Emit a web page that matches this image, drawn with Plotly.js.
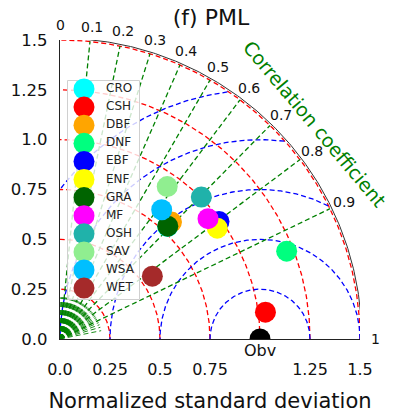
<!DOCTYPE html>
<html>
<head>
<meta charset="utf-8">
<script src="https://cdn.plot.ly/plotly-3.0.1.min.js"></script>
<style>html,body{margin:0;padding:0;background:#fff;}#chart{width:393px;height:414px;}</style>
</head>
<body>
<div id="chart"></div>
<script>
// ---- data ----
const sites   = ['CRO','CSH','DBF','DNF','EBF','ENF','GRA','MF','OSH','SAV','WSA','WET'];
const stdNorm = [0.78, 1.036, 0.809, 1.216, 0.990, 0.963, 0.7815, 0.955, 1.003, 0.934, 0.824, 0.559];
const corr    = [0.69, 0.9915, 0.689, 0.932, 0.803, 0.8166, 0.6897, 0.775, 0.7045, 0.574, 0.617, 0.826];
const colors  = ['#00FFFF','#FF0000','#FFA500','#00FF7F','#0000FF','#FFFF00','#006400','#FF00FF','#20B2AA','#90EE90','#00BFFF','#A52A2A'];
const refStd = 1.0, refCorr = 1.0, refLabel = 'Obv';
const stdGrid  = [0.25, 0.5, 0.75, 1.0, 1.25, 1.5];
const rmsGrid  = [0.25, 0.5, 0.75, 1.0, 1.25];
const corrTicks = [0, 0.1, 0.2, 0.3, 0.4, 0.5, 0.6, 0.7, 0.8, 0.9, 1];
const corrTickText = ['0','0.1','0.2','0.3','0.4','0.5','0.6','0.7','0.8','0.9','1'];
const xTickVals = [0, 0.25, 0.5, 0.75, 1.25, 1.5];
const xTickText = ['0.0','0.25','0.5','0.75','1.25','1.5'];
const yTickVals = [0, 0.25, 0.5, 0.75, 1.0, 1.25, 1.5];
const yTickText = ['0.0','0.25','0.5','0.75','1.0','1.25','1.5'];
const rMax = 1.5;

// ---- helpers ----
const toX = (s, c) => s * c;
const toY = (s, c) => s * Math.sqrt(Math.max(0, 1 - c * c));
const DASH = '5px,3px';
const traces = [];

function circleArc(cx, R, color) {
  const xs = [], ys = [];
  const n = 360;
  for (let i = 0; i <= n; i++) {
    const t = Math.PI * i / n;
    const x = cx + R * Math.cos(t), y = R * Math.sin(t);
    if (x >= -1e-9 && x * x + y * y <= rMax * rMax + 1e-9) { xs.push(x); ys.push(y); }
    else { xs.push(null); ys.push(null); }
  }
  traces.push({x: xs, y: ys, mode: 'lines', line: {color: color, width: 1.3, dash: DASH}, hoverinfo: 'skip', connectgaps: false});
}
// std-dev arcs (red)
stdGrid.forEach(R => circleArc(0, R, 'red'));
// centred RMS arcs (blue)
rmsGrid.forEach(R => circleArc(refStd, R, 'blue'));
// correlation lines (green)
corrTicks.slice(1, -1).forEach(c => {
  traces.push({x: [0, toX(rMax, c)], y: [0, toY(rMax, c)], mode: 'lines',
    line: {color: 'green', width: 1.3, dash: DASH}, hoverinfo: 'skip'});
});
// fine correlation fan near the origin
for (let k = 1; k < 50; k++) {
  const c = k / 50;
  traces.push({x: [0, toX(0.21, c)], y: [0, toY(0.21, c)], mode: 'lines',
    line: {color: 'green', width: 0.9, dash: DASH}, hoverinfo: 'skip'});
}
// outer boundary
(function(){
  const xs = [], ys = [];
  for (let i = 0; i <= 180; i++) { const t = Math.PI / 2 * i / 180; xs.push(rMax * 1.006 * Math.cos(t)); ys.push(rMax * 1.006 * Math.sin(t)); }
  traces.push({x: xs, y: ys, mode: 'lines', line: {color: '#333', width: 1}, hoverinfo: 'skip', cliponaxis: false});
})();
// reference point
traces.push({x: [toX(refStd, refCorr)], y: [toY(refStd, refCorr)], mode: 'markers',
  marker: {size: 21, color: 'black'}, hoverinfo: 'skip'});
traces.push({x: [toX(refStd, refCorr)], y: [toY(refStd, refCorr)], mode: 'markers+text', text: [refLabel],
  marker: {size: 6, opacity: 0}, textposition: 'bottom center',
  textfont: {size: 16, color: '#111', family: 'DejaVu Sans'}, cliponaxis: false, hoverinfo: 'skip'});
// model points
sites.forEach((s, i) => {
  traces.push({x: [toX(stdNorm[i], corr[i])], y: [toY(stdNorm[i], corr[i])], mode: 'markers',
    marker: {size: 21, color: colors[i]}, name: s, hoverinfo: 'skip'});
});

// ---- custom legend on its own (pixel-like) axes ----
const legX0 = 67, legX1 = 140, legY0 = 80, legY1 = 300;
const rowY = sites.map((s, i) => 89 + i * 18.1);
traces.push({x: [legX0+0.5, legX1-0.5, legX1-0.5, legX0+0.5, legX0+0.5], y: [legY0+0.5, legY0+0.5, legY1-0.5, legY1-0.5, legY0+0.5],
  xaxis: 'x2', yaxis: 'y2', mode: 'lines', fill: 'toself', fillcolor: 'rgba(255,255,255,0.8)',
  line: {color: '#d0d0d0', width: 1}, hoverinfo: 'skip'});
traces.push({x: sites.map(() => 84), y: rowY, xaxis: 'x2', yaxis: 'y2', mode: 'markers',
  marker: {size: 21, color: colors}, hoverinfo: 'skip', cliponaxis: false});
traces.push({x: sites.map(() => 106), y: rowY, xaxis: 'x2', yaxis: 'y2', mode: 'text', text: sites,
  textposition: 'middle right', textfont: {size: 12, color: '#222', family: 'DejaVu Sans'}, hoverinfo: 'skip', cliponaxis: false});

// correlation tick labels as annotations (paper coords = data / range, since axes span the full plot area)
const corrAnn = corrTicks.map((c, i) => ({text: corrTickText[i], xref: 'paper', yref: 'paper',
  x: toX(1.575, c) / rMax, y: toY(1.575, c) / rMax, showarrow: false, xanchor: 'center', yanchor: 'middle',
  font: {size: 14, color: '#111', family: 'DejaVu Sans'}}));

const W = 393, H = 414, mL = 60, mR = 33, mT = 40, mB = 75;
const pw = W - mL - mR, ph = H - mT - mB;
const layout = {
  width: W, height: H,
  margin: {l: mL, r: mR, t: mT, b: mB, pad: 0},
  paper_bgcolor: '#fff', plot_bgcolor: 'rgba(0,0,0,0)',
  showlegend: false, hovermode: false,
  font: {family: 'DejaVu Sans', color: '#111'},
  title: {text: '(f) PML', font: {size: 22, family: 'DejaVu Sans', color: '#111'},
    xref: 'container', yref: 'container', x: 211 / W, y: 1 - 17 / H, xanchor: 'center', yanchor: 'middle'},
  xaxis: {range: [0, rMax], showgrid: false, zeroline: false, showline: true, linecolor: '#222', linewidth: 1.3,
    tickvals: xTickVals, ticktext: xTickText, ticks: '', tickfont: {size: 16, color: '#111'}, ticklabelstandoff: 15,
    title: {text: 'Normalized standard deviation', font: {size: 21, color: '#111'}, standoff: 15}, fixedrange: true},
  yaxis: {range: [0, rMax], showgrid: false, zeroline: false, showline: true, linecolor: '#222', linewidth: 1.3,
    tickvals: yTickVals, ticktext: yTickText, ticks: '', tickfont: {size: 16.5, color: '#111'}, ticklabelstandoff: 8, fixedrange: true},
  xaxis2: {domain: [(legX0 - mL) / pw, (legX1 - mL) / pw], range: [legX0, legX1], anchor: 'y2',
    showgrid: false, zeroline: false, showline: false, showticklabels: false, ticks: '', fixedrange: true},
  yaxis2: {domain: [(H - mB - legY1) / ph, (H - mB - legY0) / ph], range: [legY1, legY0], anchor: 'x2',
    showgrid: false, zeroline: false, showline: false, showticklabels: false, ticks: '', fixedrange: true},
  annotations: corrAnn.concat([{text: 'Correlation coefficient', xref: 'paper', yref: 'paper', x: 1.275 / rMax, y: 1.08 / rMax, showarrow: false,
    xanchor: 'center', yanchor: 'middle', textangle: 50, font: {size: 19, color: 'green', family: 'DejaVu Sans'}}])
};
Plotly.newPlot('chart', traces, layout, {displayModeBar: false, staticPlot: true});
</script>
</body>
</html>
